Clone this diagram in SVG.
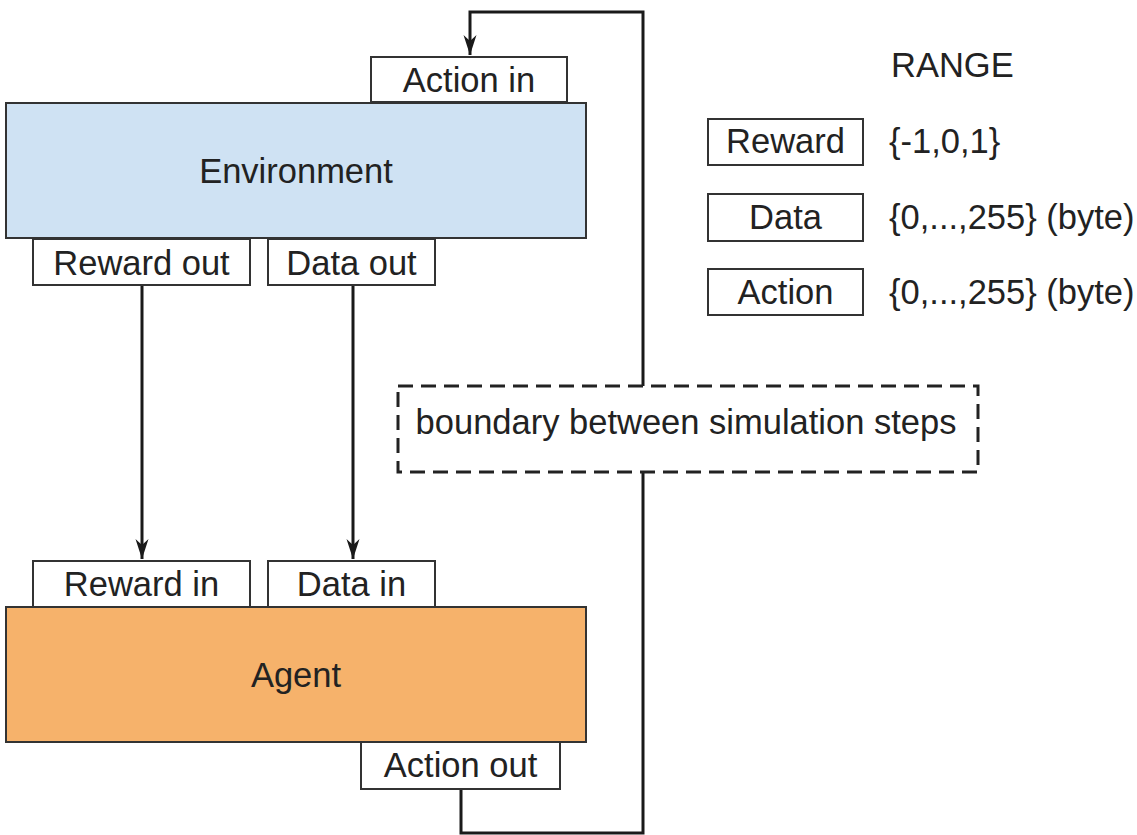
<svg xmlns="http://www.w3.org/2000/svg" width="1137" height="835" viewBox="0 0 1137 835">
<style>
text{font-family:"Liberation Sans",Arial,sans-serif;font-size:34.5px;fill:#222}
.c{text-anchor:middle}
.port{fill:#fff;stroke:#333;stroke-width:2}
.conn{fill:none;stroke:#1a1a1a;stroke-width:3}
</style>
<defs>
<marker id="arrd" markerUnits="userSpaceOnUse" markerWidth="22" markerHeight="16" viewBox="-11 -8 22 16" refX="10" refY="0" orient="auto">
<path d="M-10,-6.5 L10,0 L-10,6.5 L-4,0 Z" fill="#1a1a1a"/>
</marker>
</defs>
<g id="connectors">
<path class="conn" d="M142,285 V559" marker-end="url(#arrd)"/>
<path class="conn" d="M353,285 V559" marker-end="url(#arrd)"/>
<path class="conn" d="M643,386 V12 H470 V55" marker-end="url(#arrd)"/>
<path class="conn" d="M461,789 V833 H643 V472"/>
</g>
<g id="environment">
<rect x="6" y="103" width="580" height="135" fill="#cfe2f3" stroke="#333" stroke-width="2"/>
<text class="c" x="296" y="183">Environment</text>
</g>
<g id="action-in">
<rect class="port" x="371" y="57" width="196" height="45"/>
<text class="c" x="469" y="92">Action in</text>
</g>
<g id="reward-out">
<rect class="port" x="33" y="239" width="217" height="46"/>
<text class="c" x="141.5" y="275">Reward out</text>
</g>
<g id="data-out">
<rect class="port" x="268" y="239" width="167" height="46"/>
<text class="c" x="351.5" y="275">Data out</text>
</g>
<g id="reward-in">
<rect class="port" x="33" y="561" width="217" height="46"/>
<text class="c" x="141.5" y="596">Reward in</text>
</g>
<g id="data-in">
<rect class="port" x="268" y="561" width="167" height="46"/>
<text class="c" x="351.5" y="596">Data in</text>
</g>
<g id="agent">
<rect x="6" y="607" width="580" height="135" fill="#f6b26b" stroke="#333" stroke-width="2"/>
<text class="c" x="296" y="687">Agent</text>
</g>
<g id="action-out">
<rect class="port" x="361" y="742" width="199" height="47"/>
<text class="c" x="460.5" y="777">Action out</text>
</g>
<g id="boundary">
<rect x="398" y="386" width="580" height="86" fill="#fff" stroke="#222" stroke-width="3" stroke-dasharray="15 8"/>
<text class="c" x="686" y="434">boundary between simulation steps</text>
</g>
<g id="legend">
<text x="891" y="77">RANGE</text>
<g id="legend-reward">
<rect class="port" x="708" y="119" width="155" height="46"/>
<text class="c" x="785.5" y="153">Reward</text>
<text x="889" y="153">{-1,0,1}</text>
</g>
<g id="legend-data">
<rect class="port" x="708" y="194" width="155" height="47"/>
<text class="c" x="785.5" y="229">Data</text>
<text x="889" y="229">{0,...,255} (byte)</text>
</g>
<g id="legend-action">
<rect class="port" x="708" y="269" width="155" height="46"/>
<text class="c" x="785.5" y="304">Action</text>
<text x="889" y="304">{0,...,255} (byte)</text>
</g>
</g>
</svg>
